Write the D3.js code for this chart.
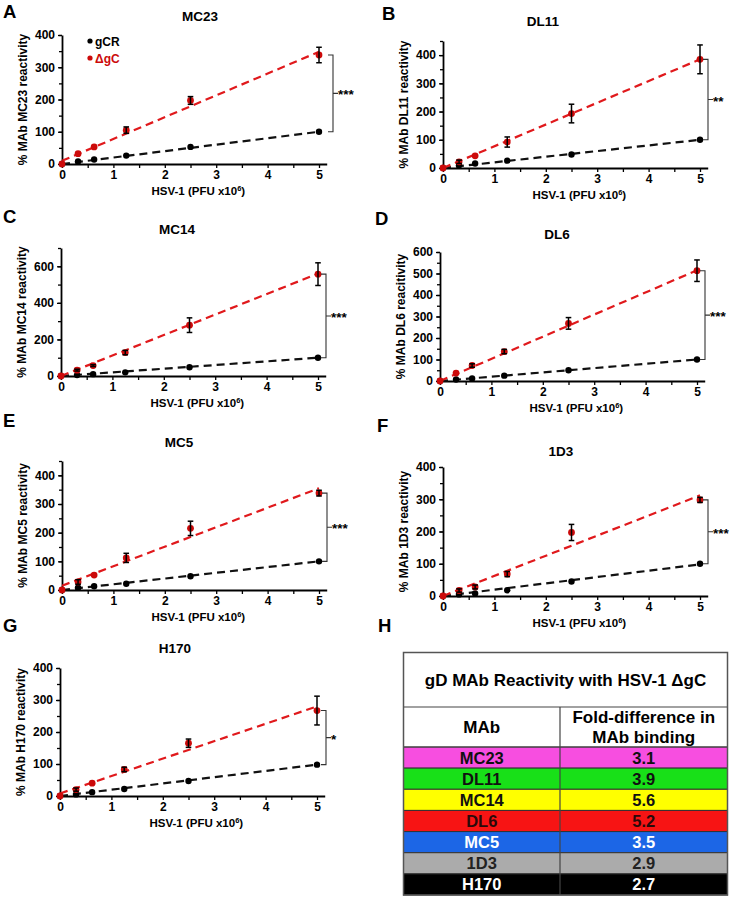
<!DOCTYPE html>
<html><head><meta charset="utf-8">
<script src="https://cdn.jsdelivr.net/npm/d3@7"></script>
<style>
body{margin:0;background:#fff;}
svg{display:block;font-family:"Liberation Sans",Arial,Helvetica,sans-serif;font-weight:bold;}
</style>
</head><body><svg id="chart" width="737" height="899"></svg>
<script>
// ---------- DATA ----------
const xValues = [0, 0.3125, 0.625, 1.25, 2.5, 5];
const xTicks = [0, 1, 2, 3, 4, 5];
const xMinorTicks = [0.5, 1.5, 2.5, 3.5, 4.5];
const panelLetters = ["A", "B", "C", "D", "E", "F", "G"];
const mabNames = ["MC23", "DL11", "MC14", "DL6", "MC5", "1D3", "H170"];
const yTitles = ["% MAb MC23 reactivity", "% MAb DL11 reactivity", "% MAb MC14 reactivity",
  "% MAb DL6 reacitivity", "% MAb MC5 reactivity", "% MAb 1D3 reactivity", "% MAb H170 reactivity"];
const yMax = [400, 450, 700, 600, 450, 400, 400];
const yTickStep = [100, 100, 200, 100, 100, 100, 100];
const significance = ["***", "**", "***", "***", "***", "***", "*"];
const seriesNames = ["gCR", "\u0394gC"];

const gcrMC23 = [0, 8, 14, 26, 53, 100];
const dgcMC23 = [0, 32, 53, 105, 197, 338];
const errMC23 = [0, 3, 4, 10, 12, 24];
const gcrDL11 = [0, 10, 16, 26, 48, 100];
const dgcDL11 = [0, 22, 43, 92, 193, 385];
const errDL11 = [0, 6, 4, 18, 33, 51];
const gcrMC14 = [0, 5, 10, 20, 48, 100];
const dgcMC14 = [0, 32, 57, 128, 278, 557];
const errMC14 = [0, 5, 5, 12, 40, 62];
const gcrDL6 = [0, 7, 12, 25, 50, 100];
const dgcDL6 = [0, 37, 72, 137, 268, 513];
const errDL6 = [0, 4, 8, 10, 27, 50];
const gcrMC5 = [0, 8, 13, 22, 48, 100];
const dgcMC5 = [0, 28, 52, 112, 215, 338];
const errMC5 = [0, 8, 4, 16, 25, 10];
const gcr1D3 = [0, 5, 8, 18, 45, 100];
const dgc1D3 = [0, 17, 28, 68, 197, 298];
const err1D3 = [0, 5, 6, 8, 25, 8];
const gcrH170 = [0, 5, 12, 22, 47, 98];
const dgcH170 = [0, 20, 40, 83, 165, 267];
const errH170 = [0, 5, 4, 7, 13, 45];

// fitted trend lines: value at x=0 and at x=5
const redFitMC23 = [10, 348], blackFitMC23 = [0, 100];
const redFitDL11 = [0, 385], blackFitDL11 = [0, 100];
const redFitMC14 = [0, 560], blackFitMC14 = [0, 100];
const redFitDL6 = [0, 515], blackFitDL6 = [0, 100];
const redFitMC5 = [15, 355], blackFitMC5 = [0, 100];
const redFit1D3 = [0, 312], blackFit1D3 = [0, 98];
const redFitH170 = [8, 280], blackFitH170 = [0, 98];

const gcrSeries = [gcrMC23, gcrDL11, gcrMC14, gcrDL6, gcrMC5, gcr1D3, gcrH170];
const dgcSeries = [dgcMC23, dgcDL11, dgcMC14, dgcDL6, dgcMC5, dgc1D3, dgcH170];
const errSeries = [errMC23, errDL11, errMC14, errDL6, errMC5, err1D3, errH170];
const redFits = [redFitMC23, redFitDL11, redFitMC14, redFitDL6, redFitMC5, redFit1D3, redFitH170];
const blackFits = [blackFitMC23, blackFitDL11, blackFitMC14, blackFitDL6, blackFitMC5, blackFit1D3, blackFitH170];

// table
const tableTitle = "gD MAb Reactivity with HSV-1 \u0394gC";
const tableHeaders = ["MAb", "Fold-difference in|MAb binding"];
const tableMAbs = ["MC23", "DL11", "MC14", "DL6", "MC5", "1D3", "H170"];
const foldDifference = ["3.1", "3.9", "5.6", "5.2", "3.5", "2.9", "2.7"];
const rowColors = ["#f74ee0", "#18e018", "#ffff00", "#f71414", "#1c66e6", "#ababab", "#000000"];
const rowTextColors = ["#111", "#111", "#111", "#2a0a0a", "#fff", "#222", "#fff"];

// ---------- LAYOUT ----------
const layout = [
  {x0: 62, y0: 164, yTop: 35, tx: 200, ty: 21, lx: 3, ly: 18, bdx: 14},
  {x0: 443, y0: 168, yTop: 41, tx: 543, ty: 26, lx: 382, ly: 20, bdx: 8},
  {x0: 61, y0: 376, yTop: 248, tx: 177, ty: 234, lx: 3, ly: 223, bdx: 8},
  {x0: 440, y0: 381, yTop: 252, tx: 557, ty: 239, lx: 375, ly: 225, bdx: 8},
  {x0: 62, y0: 590, yTop: 461, tx: 179, ty: 447, lx: 3, ly: 427, bdx: 8},
  {x0: 443, y0: 596, yTop: 467, tx: 561, ty: 456, lx: 377, ly: 432, bdx: 8},
  {x0: 60, y0: 796, yTop: 668, tx: 175, ty: 653, lx: 3, ly: 632, bdx: 9}
];
const RED = "#cc0a0a", RED_LINE = "#e0191c";

const svg = d3.select("#chart");

panelLetters.forEach((letter, i) => {
  const L = layout[i];
  const g = svg.append("g");
  const x = d3.scaleLinear().domain([0, 5.15]).range([L.x0, L.x0 + 5.15 * 51.4]);
  const y = d3.scaleLinear().domain([0, yMax[i]]).range([L.y0, L.yTop]);

  g.append("text").attr("x", L.lx).attr("y", L.ly).attr("font-size", 18.5).text(letter);
  g.append("text").attr("x", L.tx).attr("y", L.ty).attr("text-anchor", "middle")
    .attr("font-size", 13.5).text(mabNames[i]);

  const yMinor = d3.range(yTickStep[i] / 2, yMax[i] + 0.001, yTickStep[i] / 2);
  const yMajor = d3.range(0, yMax[i] + 0.001, yTickStep[i]);
  const ya = g.append("g").attr("transform", `translate(${L.x0},0)`)
    .call(d3.axisLeft(y).tickValues(yMinor).tickSize(3).tickFormat(""));
  ya.select(".domain").remove();
  const yAx = g.append("g").attr("transform", `translate(${L.x0},0)`)
    .call(d3.axisLeft(y).tickValues(yMajor).tickSize(4).tickSizeOuter(0).tickPadding(3).tickFormat(d3.format("d")));
  const xa = g.append("g").attr("transform", `translate(0,${L.y0})`)
    .call(d3.axisBottom(x).tickValues(xMinorTicks).tickSize(4).tickFormat(""));
  xa.select(".domain").remove();
  const xAx = g.append("g").attr("transform", `translate(0,${L.y0})`)
    .call(d3.axisBottom(x).tickValues(xTicks).tickSize(4).tickSizeOuter(0).tickPadding(2).tickFormat(d3.format("d")));
  [ya, yAx, xa, xAx].forEach(a => {
    a.selectAll("line").attr("stroke", "#000").attr("stroke-width", 1.3);
    a.selectAll(".domain").attr("stroke", "#000").attr("stroke-width", 1.8);
    a.selectAll("text").attr("font-size", 12).attr("font-weight", "bold").attr("fill", "#000")
      .attr("font-family", '"Liberation Sans",Arial,sans-serif');
  });

  const xt = g.append("text").attr("x", (L.x0 + x(5.15)) / 2 + 4).attr("y", L.y0 + 31)
    .attr("text-anchor", "middle").attr("font-size", 11.5);
  xt.append("tspan").text("HSV-1 (PFU x10");
  xt.append("tspan").attr("font-size", 7.5).attr("dy", -4).text("6");
  xt.append("tspan").attr("dy", 4).text(")");
  g.append("text").attr("transform", `translate(${L.x0 - 35},${(L.y0 + L.yTop) / 2}) rotate(-90)`)
    .attr("text-anchor", "middle").attr("font-size", 12).text(yTitles[i]);

  const fitLine = d3.line().x(d => x(d[0])).y(d => y(d[1]));
  g.append("path").datum([[0, blackFits[i][0]], [5, blackFits[i][1]]]).attr("d", fitLine)
    .attr("stroke", "#111").attr("stroke-width", 2.2).attr("stroke-dasharray", "8,5").attr("fill", "none");
  g.append("path").datum([[0, redFits[i][0]], [5, redFits[i][1]]]).attr("d", fitLine)
    .attr("stroke", RED_LINE).attr("stroke-width", 2.2).attr("stroke-dasharray", "8,5").attr("fill", "none");

  const gcrPts = xValues.map((xv, k) => ({x: xv, y: gcrSeries[i][k]}));
  const dgcPts = xValues.map((xv, k) => ({x: xv, y: dgcSeries[i][k], e: errSeries[i][k]}));
  g.selectAll(".gcr").data(gcrPts).join("circle").attr("cx", d => x(d.x)).attr("cy", d => y(d.y))
    .attr("r", 3.2).attr("fill", "#000");
  g.selectAll(".dgc").data(dgcPts).join("circle").attr("cx", d => x(d.x)).attr("cy", d => y(d.y))
    .attr("r", 3.4).attr("fill", RED);
  const eb = g.selectAll(".eb").data(dgcPts.filter(d => d.e > 4)).join("g");
  eb.append("line").attr("x1", d => x(d.x)).attr("x2", d => x(d.x))
    .attr("y1", d => y(d.y - d.e)).attr("y2", d => y(d.y + d.e)).attr("stroke", "#000").attr("stroke-width", 1.5);
  eb.append("line").attr("x1", d => x(d.x) - 2.8).attr("x2", d => x(d.x) + 2.8)
    .attr("y1", d => y(d.y + d.e)).attr("y2", d => y(d.y + d.e)).attr("stroke", "#000").attr("stroke-width", 1.5);
  eb.append("line").attr("x1", d => x(d.x) - 2.8).attr("x2", d => x(d.x) + 2.8)
    .attr("y1", d => y(d.y - d.e)).attr("y2", d => y(d.y - d.e)).attr("stroke", "#000").attr("stroke-width", 1.5);

  const bx = x(5) + L.bdx;
  const yT = y(dgcSeries[i][5]), yB = y(gcrSeries[i][5]), yM = (yT + yB) / 2;
  g.append("path").attr("d", `M${bx - 5},${yT}H${bx}V${yB}H${bx - 5}M${bx},${yM}H${bx + 5}`)
    .attr("stroke", "#333").attr("stroke-width", 1.1).attr("fill", "none");
  g.append("text").attr("x", bx + 5).attr("y", yM + 6).attr("font-size", 13.5).text(significance[i]);

  if (i === 0) {
    const lg = g.append("g");
    [0, 1].forEach(s => {
      lg.append("circle").attr("cx", 90).attr("cy", 41 + s * 17).attr("r", 2.6).attr("fill", s ? RED : "#000");
      lg.append("text").attr("x", 95).attr("y", 45.5 + s * 17).attr("font-size", 12)
        .attr("fill", s ? RED : "#000").text(seriesNames[s]);
    });
  }
});

// ---------- TABLE (panel H) ----------
svg.append("text").attr("x", 378).attr("y", 632).attr("font-size", 18.5).text("H");
const T = {x: 403.5, xDiv: 560, x2: 727.5, top: 652.5, titleB: 707, headB: 747, bottom: 895};
const rowH = (T.bottom - T.headB) / tableMAbs.length;
const tg = svg.append("g");
tg.append("rect").attr("x", T.x).attr("y", T.top).attr("width", T.x2 - T.x).attr("height", T.bottom - T.top)
  .attr("fill", "#fff");
tg.append("text").attr("x", (T.x + T.x2) / 2).attr("y", (T.top + T.titleB) / 2 + 6)
  .attr("text-anchor", "middle").attr("font-size", 17).text(tableTitle);
tg.append("text").attr("x", (T.x + T.xDiv) / 2).attr("y", (T.titleB + T.headB) / 2 + 6)
  .attr("text-anchor", "middle").attr("font-size", 17).text(tableHeaders[0]);
tableHeaders[1].split("|").forEach((t, k) => {
  tg.append("text").attr("x", (T.xDiv + T.x2) / 2).attr("y", T.titleB + 16 + k * 20)
    .attr("text-anchor", "middle").attr("font-size", 17).text(t);
});
const rows = tg.selectAll(".row").data(tableMAbs).join("g");
rows.append("rect").attr("x", T.x).attr("y", (d, k) => T.headB + k * rowH)
  .attr("width", T.x2 - T.x).attr("height", rowH).attr("fill", (d, k) => rowColors[k])
  .attr("stroke", "#333").attr("stroke-width", 1);
rows.append("text").attr("x", (T.x + T.xDiv) / 2).attr("y", (d, k) => T.headB + k * rowH + rowH / 2 + 6)
  .attr("text-anchor", "middle").attr("font-size", 16.5).attr("fill", (d, k) => rowTextColors[k]).text(d => d);
rows.append("text").attr("x", (T.xDiv + T.x2) / 2).attr("y", (d, k) => T.headB + k * rowH + rowH / 2 + 6)
  .attr("text-anchor", "middle").attr("font-size", 16.5).attr("fill", (d, k) => rowTextColors[k])
  .text((d, k) => foldDifference[k]);
tg.append("line").attr("x1", T.x).attr("x2", T.x2).attr("y1", T.titleB).attr("y2", T.titleB).attr("stroke", "#444").attr("stroke-width", 1.2);
tg.append("line").attr("x1", T.x).attr("x2", T.x2).attr("y1", T.headB).attr("y2", T.headB).attr("stroke", "#444").attr("stroke-width", 1.2);
tg.append("line").attr("x1", T.xDiv).attr("x2", T.xDiv).attr("y1", T.titleB).attr("y2", T.bottom).attr("stroke", "#444").attr("stroke-width", 1.2);
tg.append("rect").attr("x", T.x).attr("y", T.top).attr("width", T.x2 - T.x).attr("height", T.bottom - T.top)
  .attr("fill", "none").attr("stroke", "#555").attr("stroke-width", 1.5);
</script>
</body></html>
